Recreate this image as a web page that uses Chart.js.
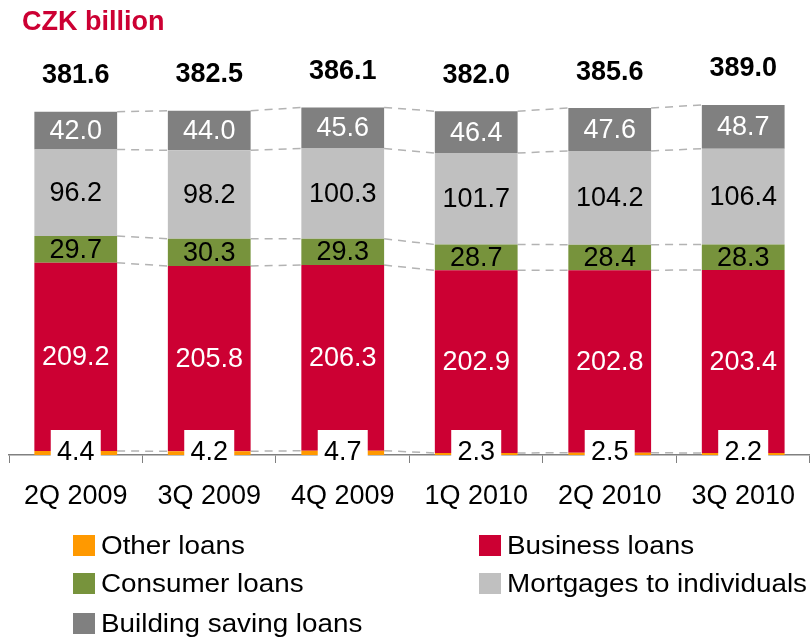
<!DOCTYPE html>
<html>
<head>
<meta charset="utf-8">
<title>Loans by segment</title>
<script src="https://cdn.jsdelivr.net/npm/chart.js@4/dist/chart.umd.min.js"></script>
<style>
    html, body { margin: 0; padding: 0; background: #fff; }
    #chart { display: block; }
</style>
</head>
<body>
<canvas id="chart" width="812" height="637"></canvas>
<script>
// Data (CZK billion)
const quarters = ['2Q 2009', '3Q 2009', '4Q 2009', '1Q 2010', '2Q 2010', '3Q 2010'];
const otherLoans = [4.4, 4.2, 4.7, 2.3, 2.5, 2.2];
const businessLoans = [209.2, 205.8, 206.3, 202.9, 202.8, 203.4];
const consumerLoans = [29.7, 30.3, 29.3, 28.7, 28.4, 28.3];
const mortgages = [96.2, 98.2, 100.3, 101.7, 104.2, 106.4];
const buildingSaving = [42.0, 44.0, 45.6, 46.4, 47.6, 48.7];
const totals = [381.6, 382.5, 386.1, 382.0, 385.6, 389.0];

const FONT = "'Liberation Sans', Arial, sans-serif";

// label colour inside each segment (by dataset index)
const labelColors = ['#000', '#fff', '#000', '#000', '#fff'];

const decorations = {
    id: 'decorations',
    beforeDatasetsDraw(chart) {
        // dashed connectors between neighbouring bars
        const ctx = chart.ctx;
        ctx.save();
        ctx.strokeStyle = '#b3b3b3';
        ctx.lineWidth = 1.5;
        ctx.setLineDash([8, 6]);
        chart.data.datasets.forEach((ds, i) => {
            const bars = chart.getDatasetMeta(i).data;
            for (let j = 0; j < bars.length - 1; j++) {
                const a = bars[j], b = bars[j + 1];
                ctx.beginPath();
                ctx.moveTo(a.x + a.width / 2, a.y);
                ctx.lineTo(b.x - b.width / 2, b.y);
                ctx.stroke();
            }
        });
        ctx.restore();
    },
    afterDatasetsDraw(chart) {
        const ctx = chart.ctx;
        ctx.save();
        ctx.textAlign = 'center';
        ctx.textBaseline = 'middle';
        chart.data.datasets.forEach((ds, i) => {
            chart.getDatasetMeta(i).data.forEach((bar, j) => {
                const txt = ds.data[j].toFixed(1);
                ctx.font = '27px ' + FONT;
                if (i === 0) {
                    // small values sit in a white box on the axis
                    ctx.fillStyle = '#fff';
                    ctx.fillRect(bar.x - 25, bar.base - 25, 50, 35);
                    ctx.fillStyle = '#000';
                    ctx.fillText(txt, bar.x, bar.base - 2);
                } else {
                    ctx.fillStyle = labelColors[i];
                    ctx.fillText(txt, bar.x, (bar.y + bar.base) / 2 + 1);
                }
            });
        });
        // totals above the bars
        const top = chart.getDatasetMeta(chart.data.datasets.length - 1).data;
        ctx.font = 'bold 27px ' + FONT;
        ctx.fillStyle = '#000';
        top.forEach((bar, j) => {
            ctx.fillText(totals[j].toFixed(1), bar.x, bar.y - 36);
        });
        ctx.restore();
    },
    afterDraw(chart) {
        const ctx = chart.ctx;
        ctx.save();
        // title
        ctx.font = 'bold 27px ' + FONT;
        ctx.fillStyle = '#cc0033';
        ctx.textBaseline = 'alphabetic';
        ctx.textAlign = 'left';
        ctx.fillText('CZK billion', 22, 30);

        // legend, two columns
        const colX = [73, 479];
        const rowY = [546, 584, 624];
        ctx.font = '26px ' + FONT;
        ctx.textBaseline = 'middle';
        chart.data.datasets.forEach((ds, i) => {
            const x = colX[i % 2];
            const y = rowY[Math.floor(i / 2)];
            ctx.fillStyle = ds.backgroundColor;
            ctx.fillRect(x, y - 11, 22, 21);
            ctx.fillStyle = '#000';
            ctx.save();
            ctx.translate(x + 28, y);
            ctx.scale(1.07, 1);
            ctx.fillText(ds.label, 0, 1);
            ctx.restore();
        });
        ctx.restore();
    }
};

new Chart(document.getElementById('chart'), {
    type: 'bar',
    data: {
        labels: quarters,
        datasets: [
            { label: 'Other loans', data: otherLoans, backgroundColor: '#ff9900' },
            { label: 'Business loans', data: businessLoans, backgroundColor: '#cc0033' },
            { label: 'Consumer loans', data: consumerLoans, backgroundColor: '#77933c' },
            { label: 'Mortgages to individuals', data: mortgages, backgroundColor: '#c0c0c0' },
            { label: 'Building saving loans', data: buildingSaving, backgroundColor: '#808080' }
        ]
    },
    options: {
        responsive: false,
        animation: false,
        layout: { padding: { top: 41, left: 9, right: 0, bottom: 112 } },
        datasets: {
            bar: { categoryPercentage: 1.0, barPercentage: 0.62, borderWidth: 0 }
        },
        plugins: {
            legend: { display: false },
            title: { display: false },
            tooltip: { enabled: false }
        },
        scales: {
            x: {
                stacked: true,
                afterFit(scale) { scale.height = 70; },
                grid: {
                    drawOnChartArea: false,
                    drawTicks: true,
                    tickLength: 8,
                    color: '#808080',
                    offset: true
                },
                border: { color: '#808080', width: 1.5 },
                ticks: {
                    color: '#000',
                    padding: 17,
                    maxRotation: 0,
                    font: { family: FONT, size: 27 }
                }
            },
            y: {
                stacked: true,
                display: false,
                min: 0,
                max: 460
            }
        }
    },
    plugins: [decorations]
});
</script>
</body>
</html>
